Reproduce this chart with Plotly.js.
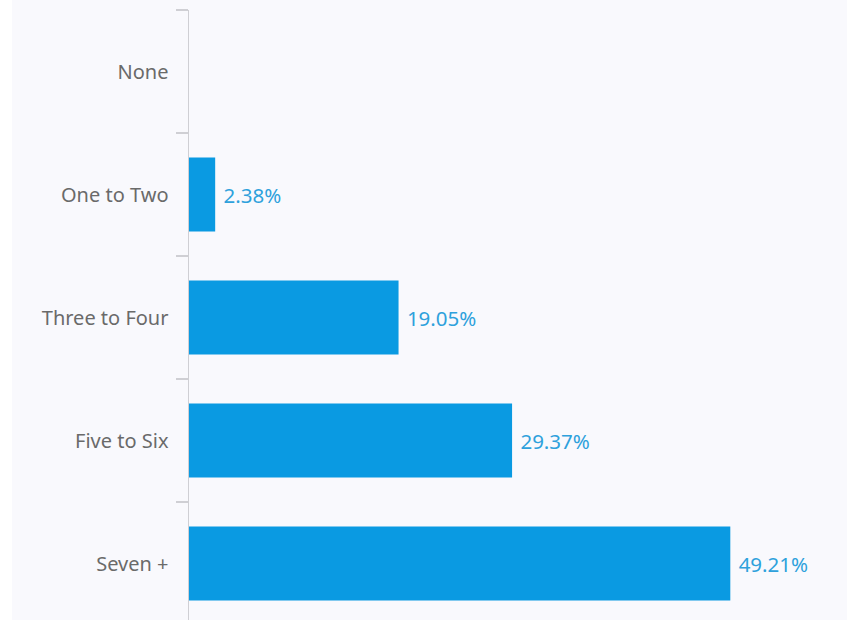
<!DOCTYPE html>
<html><head><meta charset="utf-8">
<script src="https://cdn.plot.ly/plotly-3.0.1.min.js"></script>
<style>html,body{margin:0;padding:0;overflow:hidden;background:#ffffff;}
#wrap{position:absolute;left:12px;top:0;width:835px;height:635px;background:#f9f9fd;}
#chart{position:absolute;left:0;top:0;width:847px;height:635px;}</style>
</head><body>
<div id="wrap"></div>
<div id="chart"></div>
<script>
const categories = ["None", "One to Two", "Three to Four", "Five to Six", "Seven +"];
const values = [0, 2.38, 19.05, 29.37, 49.21];
const labels = values.map(v => v > 0 ? " " + v.toFixed(2) + "%" : "");

Plotly.newPlot("chart", [{
  type: "bar",
  orientation: "h",
  y: categories,
  x: values,
  text: labels,
  textposition: "outside",
  cliponaxis: false,
  textfont: {family: "Noto Sans, Open Sans, sans-serif", size: 20.5, color: "#2ea1dc"},
  marker: {color: "#0a9ae2"},
  width: 0.6,
  hoverinfo: "none"
}], {
  width: 847, height: 635,
  margin: {l: 189, r: 53, t: 10, b: 10},
  paper_bgcolor: "rgba(0,0,0,0)",
  plot_bgcolor: "rgba(0,0,0,0)",
  showlegend: false,
  xaxis: {range: [0, 55], visible: false, showgrid: false, zeroline: false},
  yaxis: {
    type: "category",
    categoryorder: "array",
    categoryarray: categories,
    autorange: "reversed",
    showline: true, linecolor: "#cfcfd4", linewidth: 1.5,
    ticks: "outside", tickson: "boundaries", ticklen: 12, tickcolor: "#cfcfd4", tickwidth: 1.5,
    ticklabelstandoff: 15,
    showgrid: false, zeroline: false,
    tickfont: {family: "Noto Sans, Open Sans, sans-serif", size: 20, color: "#6a6a6a"}
  }
}, {displayModeBar: false, staticPlot: true});
</script>
</body></html>
